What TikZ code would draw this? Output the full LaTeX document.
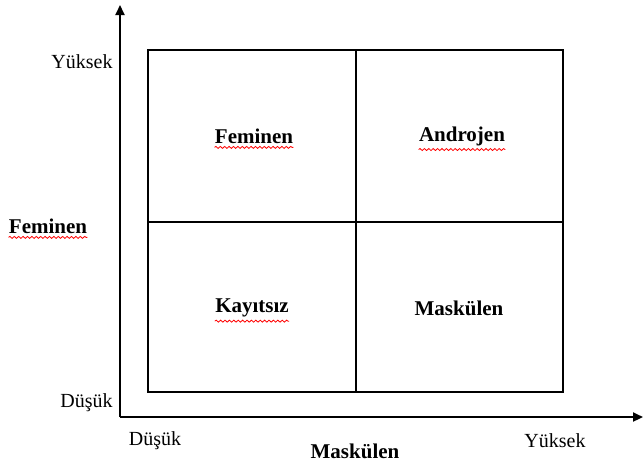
\documentclass[tikz,border=0pt]{standalone}
\usepackage{fontspec}
\setmainfont{Liberation Serif}
\usetikzlibrary{positioning, arrows.meta, decorations.pathmorphing}

\begin{document}
\begin{tikzpicture}[
    x=0.5pt, y=-0.5pt,
    axis/.style={draw, line width=1.1pt, -{Triangle[length=5pt, width=4.5pt]}},
    grid line/.style={draw, line width=1.2pt},
    tick label/.style={font=\fontsize{10}{12}\selectfont, inner sep=0pt},
    region/.style={font=\fontsize{10.5}{12}\selectfont\bfseries, inner sep=0pt},
    spellmark/.style={draw=red, line width=0.4pt,
        decorate, decoration={snake, segment length=2.2pt, amplitude=0.5pt}},
]
  \useasboundingbox (0,0) rectangle (644,463);

  % axes
  \coordinate (origin) at (120,417);
  \coordinate (ytop) at (120,5);
  \coordinate (xend) at (643,417);
  \path (origin) edge[axis] (ytop);
  \path (origin) edge[axis] (xend);

  % the four cells
  \coordinate (bl) at (148,392);
  \coordinate (tr) at (563,50);
  \coordinate (mtop) at (356,50);
  \coordinate (mbot) at (356,392);
  \coordinate (mleft) at (148,222);
  \coordinate (mright) at (563,222);
  \draw[grid line] (bl) rectangle (tr);
  \draw[grid line] (mtop) -- (mbot);
  \draw[grid line] (mleft) -- (mright);

  % vertical axis labels
  \node[tick label, anchor=east] (yhigh) at (113,62) {Yüksek};
  \node[tick label, anchor=east] (ylow) at (113,403) {Düşük};
  \node[region, anchor=center] (yname) at (48,226) {Feminen};

  % horizontal axis labels
  \node[tick label] (xlow) at (155,441) {Düşük};
  \node[tick label] (xhigh) at (555,441) {Yüksek};
  \node[region] (xname) at (355,451) {Maskülen};

  % cell labels
  \node[region] (fem) at (254,136) {Feminen};
  \node[region] (andro) at (462,136) {Androjen};
  \node[region] (kay) at (252,308) {Kayıtsız};
  \node[region] (mask) at (459,308) {Maskülen};

  % spell-check marks
  \foreach \n in {yname, fem, andro, kay}
    \draw[spellmark] ([yshift=-1.8pt]\n.south west) -- ([yshift=-1.8pt]\n.south east);
\end{tikzpicture}
\end{document}
